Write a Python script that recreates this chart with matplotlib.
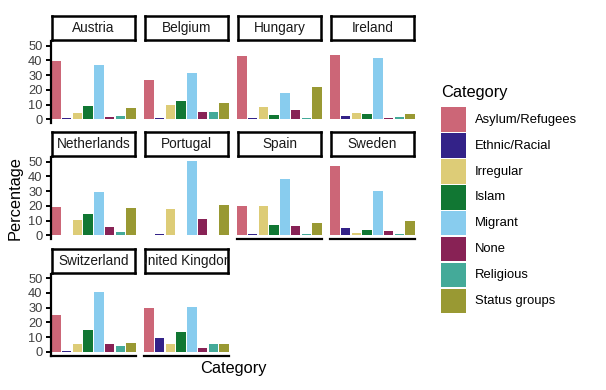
import numpy as np
import matplotlib.pyplot as plt
from matplotlib.patches import Rectangle

plt.rcParams['font.family'] = ['Liberation Sans', 'DejaVu Sans']

# data
categories = ["Asylum/Refugees", "Ethnic/Racial", "Irregular", "Islam",
              "Migrant", "None", "Religious", "Status groups"]
colors = ["#CC6677", "#332288", "#DDCC77", "#117733",
          "#88CCEE", "#882255", "#44AA99", "#999933"]

countries = ["Austria", "Belgium", "Hungary", "Ireland",
             "Netherlands", "Portugal", "Spain", "Sweden",
             "Switzerland", "United Kingdom"]

austria = [39.6, 1.0, 4.0, 9.0, 36.6, 1.5, 2.0, 7.7]
belgium = [26.6, 1.0, 9.5, 12.3, 31.4, 5.2, 5.2, 10.9]
hungary = [43.0, 1.0, 8.2, 2.7, 17.7, 6.1, 1.0, 22.0]
ireland = [43.6, 2.5, 4.0, 3.6, 41.4, 1.0, 1.6, 3.4]
netherlands = [19.2, 0.5, 10.7, 14.8, 29.2, 5.5, 2.5, 18.5]
portugal = [0.2, 1.0, 17.6, 0.2, 50.7, 11.4, 0.0, 20.3]
spain = [20.1, 1.0, 19.6, 6.9, 38.1, 6.0, 1.0, 8.7]
sweden = [47.0, 4.8, 1.4, 3.9, 30.1, 3.0, 1.2, 9.4]
switzerland = [25.3, 0.5, 5.0, 15.0, 40.7, 5.4, 4.0, 6.1]
uk = [29.7, 9.7, 5.4, 13.6, 30.5, 2.7, 5.4, 5.4]

values = [austria, belgium, hungary, ireland, netherlands,
          portugal, spain, sweden, switzerland, uk]

W, H = 606, 390
fig = plt.figure(figsize=(W / 100, H / 100), dpi=100)

col_x = [51, 144, 237, 330]
panel_w = 85
strip_top = [15, 131, 247.5]
strip_h = 26
panel_h = 82
ymax = 53.2

for i, (name, vals) in enumerate(zip(countries, values)):
    r, c = divmod(i, 4)
    x0 = col_x[c]
    st = strip_top[r]
    pt = st + strip_h
    ax = fig.add_axes([x0 / W, 1 - (pt + panel_h) / H, panel_w / W, panel_h / H])
    ax.bar(np.arange(len(categories)), vals, width=0.9, color=colors)
    ax.set_xlim(-0.45, len(categories) - 0.55)
    ax.set_ylim(-2.5, ymax)
    ax.set_xticks([])
    for s in ["top", "right"]:
        ax.spines[s].set_visible(False)
    has_below = i + 4 < len(countries)
    ax.spines["bottom"].set_visible(not has_below)
    ax.spines["bottom"].set_linewidth(1.6)
    if c == 0:
        ax.spines["left"].set_linewidth(1.6)
        ax.set_yticks([0, 10, 20, 30, 40, 50])
        ax.tick_params(axis="y", length=3.5, width=1.4, labelsize=9.3,
                       labelcolor="#404040", pad=2.5)
    else:
        ax.spines["left"].set_visible(False)
        ax.set_yticks([])

    # strip
    sx = fig.add_axes([(x0 + 1) / W, 1 - (st + strip_h - 1) / H,
                       (panel_w - 2) / W, (strip_h - 2) / H])
    sx.set_xticks([])
    sx.set_yticks([])
    for s in sx.spines.values():
        s.set_linewidth(1.8)
    sx.text(0.5, 0.48, name, ha="center", va="center", fontsize=9.8,
            color="#1A1A1A", transform=sx.transAxes, clip_on=True)

fig.text(15 / W, 1 - 198 / H, "Percentage", rotation=90, ha="center",
         va="center", fontsize=11.8)
fig.text(233 / W, 1 - 369 / H, "Category", ha="center", va="center",
         fontsize=11.8)

# legend
fig.text(441 / W, 1 - 92 / H, "Category", ha="left", va="center",
         fontsize=11.8)
key_top = 107.3
pitch = 25.9
for k, (lab, col) in enumerate(zip(categories, colors)):
    y = key_top + k * pitch
    fig.patches.append(Rectangle((441 / W, 1 - (y + 24.5) / H), 25 / W, 24.5 / H,
                                 transform=fig.transFigure, facecolor=col,
                                 edgecolor="none"))
    fig.text(475 / W, 1 - (y + 12.5) / H, lab, ha="left", va="center",
             fontsize=9.4)

fig.savefig("out.png", dpi=100)
